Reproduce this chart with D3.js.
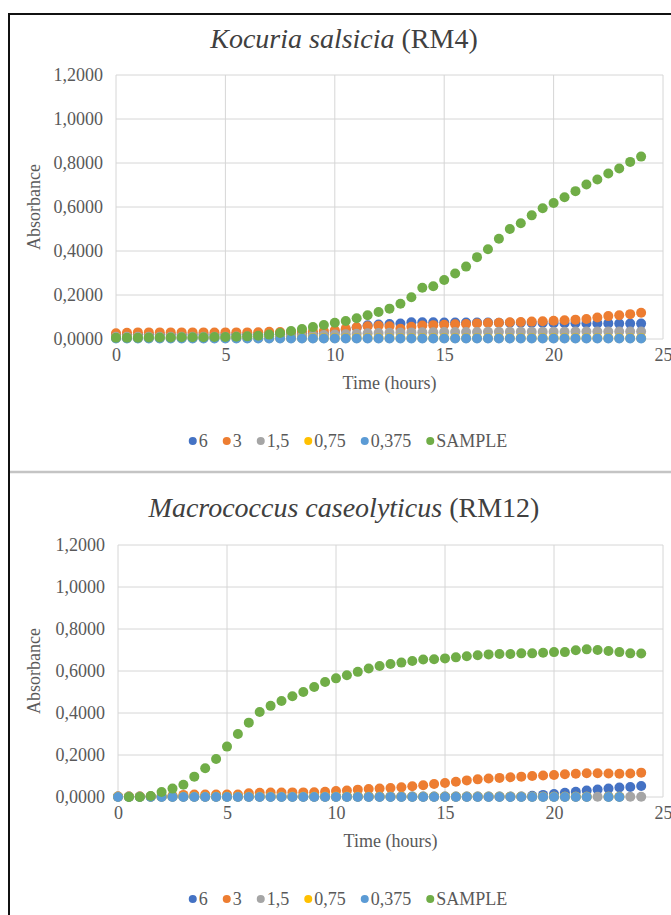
<!DOCTYPE html>
<html>
<head>
<meta charset="utf-8">
<script src="https://cdn.jsdelivr.net/npm/d3@7"></script>
<style>
  html, body { margin: 0; padding: 0; background: #fff; }
  svg { display: block; }
  text { font-family: "Liberation Serif", "Times New Roman", serif; }
</style>
</head>
<body>
<svg id="chart" width="671" height="915"></svg>
<script>
// Sampling times (hours)
const time = [0,0.5,1,1.5,2,2.5,3,3.5,4,4.5,5,5.5,6,6.5,7,7.5,8,8.5,9,9.5,10,10.5,11,11.5,12,12.5,13,13.5,14,14.5,15,15.5,16,16.5,17,17.5,18,18.5,19,19.5,20,20.5,21,21.5,22,22.5,23,23.5,24];

const seriesNames  = ["6", "3", "1,5", "0,75", "0,375", "SAMPLE"];
const seriesColors = ["#4472C4", "#ED7D31", "#A5A5A5", "#FFC000", "#5B9BD5", "#70AD47"];

const xTicks = [0, 5, 10, 15, 20, 25];
const yTicks = [0, 0.2, 0.4, 0.6, 0.8, 1.0, 1.2];

// Kocuria salsicia (RM4) absorbance
const kocuria6 = [0.020,0.020,0.020,0.020,0.020,0.020,0.020,0.020,0.020,0.020,0.020,0.022,0.022,0.022,0.022,0.022,0.022,0.025,0.025,0.025,0.032,0.042,0.052,0.062,0.066,0.068,0.070,0.076,0.076,0.076,0.075,0.075,0.075,0.075,0.075,0.074,0.074,0.074,0.073,0.073,0.072,0.072,0.072,0.071,0.071,0.071,0.070,0.070,0.070];
const kocuria3 = [0.026,0.028,0.030,0.030,0.030,0.030,0.030,0.030,0.030,0.029,0.030,0.030,0.030,0.031,0.033,0.032,0.032,0.033,0.034,0.036,0.040,0.046,0.053,0.058,0.060,0.058,0.047,0.056,0.061,0.063,0.065,0.067,0.068,0.071,0.073,0.074,0.076,0.077,0.079,0.081,0.083,0.085,0.088,0.091,0.098,0.104,0.108,0.113,0.119];
const kocuria15 = [0.010,0.010,0.010,0.010,0.010,0.010,0.010,0.010,0.010,0.010,0.010,0.011,0.011,0.012,0.012,0.013,0.014,0.015,0.016,0.018,0.020,0.022,0.024,0.026,0.027,0.028,0.029,0.030,0.031,0.031,0.032,0.032,0.032,0.032,0.033,0.033,0.033,0.033,0.033,0.033,0.033,0.033,0.034,0.034,0.034,0.034,0.034,0.034,0.034];
const kocuria075 = [0.004,0.004,0.004,0.004,0.004,0.004,0.004,0.004,0.004,0.004,0.004,0.004,0.004,0.004,0.004,0.004,0.004,0.004,0.004,0.004,0.004,0.004,0.004,0.004,0.004,0.004,0.004,0.004,0.004,0.004,0.004,0.004,0.004,0.004,0.004,0.004,0.004,0.004,0.004,0.004,0.004,0.004,0.004,0.004,0.004,0.004,0.004,0.004,0.004];
const kocuria0375 = [0.002,0.002,0.002,0.002,0.002,0.002,0.002,0.002,0.002,0.002,0.002,0.002,0.002,0.002,0.002,0.002,0.002,0.002,0.002,0.002,0.002,0.002,0.002,0.002,0.002,0.002,0.002,0.002,0.002,0.002,0.002,0.002,0.002,0.002,0.002,0.002,0.002,0.002,0.002,0.002,0.002,0.002,0.002,0.002,0.002,0.002,0.002,0.002,0.002];
const kocuriaSample = [0.006,0.006,0.006,0.007,0.007,0.007,0.008,0.008,0.008,0.009,0.009,0.010,0.012,0.015,0.020,0.027,0.036,0.045,0.054,0.064,0.074,0.082,0.094,0.108,0.123,0.138,0.160,0.190,0.233,0.240,0.268,0.298,0.329,0.372,0.408,0.456,0.500,0.526,0.562,0.594,0.618,0.644,0.672,0.702,0.725,0.752,0.775,0.805,0.829];

// Macrococcus caseolyticus (RM12) absorbance
const macro6 = [0.002,0.002,0.002,0.002,0.002,0.002,0.002,0.002,0.002,0.002,0.002,0.002,0.002,0.002,0.002,0.002,0.002,0.002,0.002,0.002,0.002,0.002,0.002,0.002,0.002,0.002,0.002,0.002,0.002,0.002,0.002,0.002,0.002,0.002,0.002,0.002,0.002,0.002,0.006,0.010,0.014,0.020,0.025,0.031,0.036,0.040,0.045,0.048,0.052];
const macro3 = [0.002,0.002,0.002,0.002,0.002,0.006,0.010,0.012,0.012,0.012,0.012,0.012,0.018,0.020,0.021,0.021,0.022,0.022,0.023,0.025,0.028,0.031,0.035,0.038,0.040,0.043,0.046,0.051,0.056,0.062,0.067,0.073,0.079,0.084,0.088,0.091,0.094,0.097,0.100,0.102,0.105,0.108,0.111,0.113,0.113,0.112,0.111,0.112,0.116];
const macro15 = [0.001,0.001,0.001,0.001,0.001,0.001,0.001,0.001,0.001,0.001,0.001,0.001,0.001,0.001,0.001,0.001,0.001,0.001,0.001,0.001,0.001,0.001,0.001,0.001,0.001,0.001,0.001,0.001,0.001,0.001,0.001,0.001,0.001,0.001,0.001,0.001,0.001,0.001,0.001,0.001,0.001,0.001,0.001,0.001,0.001,0.001,0.001,0.001,0.001];
const macro075 = [0.001,0.001,0.001,0.001,0.001,0.001,0.001,0.001,0.001,0.001,0.001,0.001,0.001,0.001,0.001,0.001,0.001,0.001,0.001,0.001,0.001,0.001,0.001,0.001,0.001,0.001,0.001,0.001,0.001,0.001,0.001,0.001,0.001,0.001,0.001,0.001,0.001,0.001,0.001,0.001,0.001,0.001,0.001,0.001,null,0.001,0.001,null,null];
const macro0375 = [0.000,0.000,0.000,0.000,0.000,0.000,0.000,0.000,0.000,0.000,0.000,0.000,0.000,0.000,0.000,0.000,0.000,0.000,0.000,0.000,0.000,0.000,0.000,0.000,0.000,0.000,0.000,0.000,0.000,0.000,0.000,0.000,0.000,0.000,0.000,0.000,0.000,0.000,0.000,0.000,0.000,0.000,0.000,0.000,null,0.000,0.000,null,null];
const macroSample = [null,0.000,0.000,0.005,0.024,0.040,0.058,0.097,0.137,0.181,0.240,0.300,0.354,0.405,0.434,0.457,0.480,0.500,0.524,0.548,0.565,0.580,0.596,0.612,0.624,0.633,0.640,0.648,0.655,0.656,0.660,0.665,0.670,0.675,0.679,0.681,0.681,0.684,0.684,0.687,0.690,0.690,0.699,0.703,0.700,0.695,0.690,0.684,0.683];

const panels = [
  {
    species: "Kocuria salsicia", strain: " (RM4)",
    series: [kocuria6, kocuria3, kocuria15, kocuria075, kocuria0375, kocuriaSample],
    titleY: 48, left: 116, right: 663, top: 75, bottom: 339
  },
  {
    species: "Macrococcus caseolyticus", strain: " (RM12)",
    series: [macro6, macro3, macro15, macro075, macro0375, macroSample],
    titleY: 517, left: 118, right: 663, top: 545, bottom: 797
  }
];

const svg = d3.select("#chart");
const fmt = v => d3.format(".4f")(v).replace(".", ",");
const centerX = 344;
const labelSize = 18;

panels.forEach(p => {
  const x = d3.scaleLinear().domain([0, 25]).range([p.left, p.right]);
  const y = d3.scaleLinear().domain([0, 1.2]).range([p.bottom, p.top]);
  const g = svg.append("g");

  // title
  const title = g.append("text")
    .attr("x", centerX).attr("y", p.titleY)
    .attr("text-anchor", "middle")
    .attr("font-size", 28).attr("fill", "#404040");
  title.append("tspan").attr("font-style", "italic").text(p.species);
  title.append("tspan").text(p.strain);

  // gridlines
  g.append("g").selectAll("line").data(yTicks).join("line")
    .attr("x1", p.left).attr("x2", p.right)
    .attr("y1", d => y(d)).attr("y2", d => y(d))
    .attr("stroke", "#d6d6d6").attr("stroke-width", 1);
  g.append("g").selectAll("line").data(xTicks).join("line")
    .attr("x1", d => x(d)).attr("x2", d => x(d))
    .attr("y1", p.top).attr("y2", p.bottom)
    .attr("stroke", "#d6d6d6").attr("stroke-width", 1);

  // axes (labels only)
  const yAxis = g.append("g").attr("transform", `translate(${p.left},0)`)
    .call(d3.axisLeft(y).tickValues(yTicks).tickFormat(fmt).tickSize(0).tickPadding(13));
  const xAxis = g.append("g").attr("transform", `translate(0,${p.bottom})`)
    .call(d3.axisBottom(x).tickValues(xTicks).tickFormat(d3.format("d")).tickSize(0).tickPadding(9));
  [yAxis, xAxis].forEach(a => {
    a.select(".domain").remove();
    a.selectAll("text").attr("font-family", "Liberation Serif").attr("font-size", labelSize).attr("fill", "#595959");
  });

  // axis titles
  g.append("text")
    .attr("x", (p.left + p.right) / 2).attr("y", p.bottom + 50)
    .attr("text-anchor", "middle").attr("font-size", labelSize).attr("fill", "#595959")
    .text("Time (hours)");
  g.append("text")
    .attr("transform", `translate(40,${(p.top + p.bottom) / 2}) rotate(-90)`)
    .attr("text-anchor", "middle").attr("font-size", labelSize).attr("fill", "#595959")
    .text("Absorbance");

  // markers, drawn in series order
  p.series.forEach((vals, i) => {
    const pts = time.map((t, j) => ({ t, v: vals[j] })).filter(d => d.v !== null);
    g.append("g").selectAll("circle").data(pts).join("circle")
      .attr("cx", d => x(d.t)).attr("cy", d => y(d.v)).attr("r", 5)
      .attr("fill", seriesColors[i]);
  });

  // legend
  const lg = g.append("g");
  let cursor = 0;
  seriesNames.forEach((name, i) => {
    const item = lg.append("g").attr("transform", `translate(${cursor},0)`);
    item.append("circle").attr("cx", 4).attr("cy", 0).attr("r", 4).attr("fill", seriesColors[i]);
    const t = item.append("text").attr("x", 10).attr("y", 6)
      .attr("font-size", labelSize).attr("fill", "#595959").text(name);
    cursor += 10 + t.node().getComputedTextLength() + 15;
  });
  const legendW = cursor - 15;
  lg.attr("transform", `translate(${348 - legendW / 2},${p.bottom + 102})`);
});

// page frame and separator between the two charts
svg.append("line").attr("x1", 9).attr("x2", 671).attr("y1", 472).attr("y2", 472)
  .attr("stroke", "#c4c4c4").attr("stroke-width", 2.5);
svg.append("path").attr("d", "M9,915 V14 H671")
  .attr("fill", "none").attr("stroke", "#111").attr("stroke-width", 2);
</script>
</body>
</html>
